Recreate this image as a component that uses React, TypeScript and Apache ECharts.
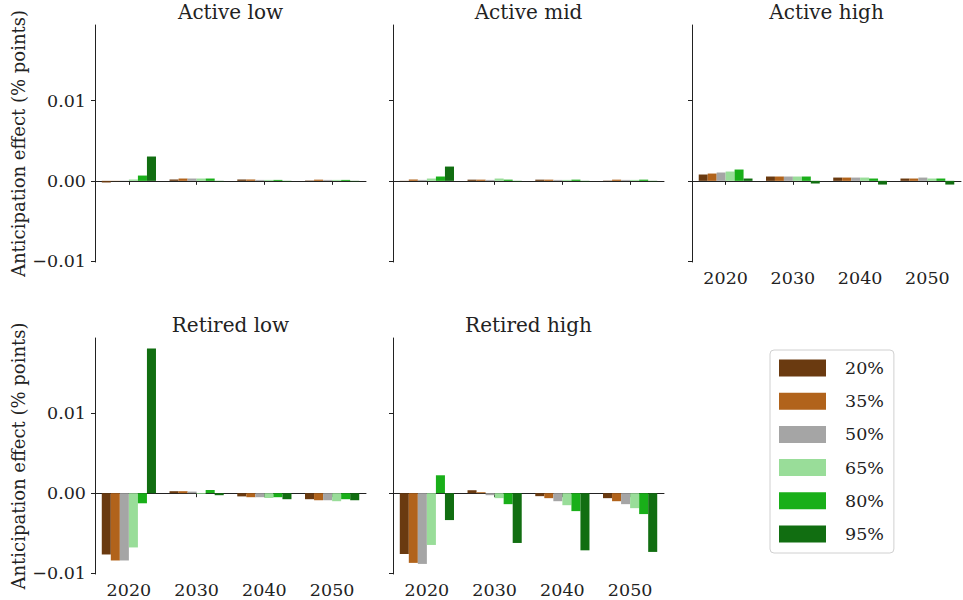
import React, { useEffect, useRef } from "react";
import * as echarts from "echarts";

const years = ["2020", "2030", "2040", "2050"];
const shares = ["20%", "35%", "50%", "65%", "80%", "95%"];
const shareColors = ["#6a3a10", "#b1631b", "#a5a5a5", "#99dd99", "#19af19", "#116e11"];
const panelTitles = ["Active low", "Active mid", "Active high", "Retired low", "Retired high"];
const yTicks = [-0.01, 0, 0.01];

// rows: shares (20%..95%), columns: years
const activeLow = [
  [-0.0002, 0.00017, 0.00017, 0.00005],
  [-0.00003, 0.00029, 0.00017, 0.00015],
  [0.00003, 0.00029, 0.00012, 0.00012],
  [0.00017, 0.00029, 0.00012, 0.00012],
  [0.00066, 0.00029, 0.00012, 0.00012],
  [0.00303, -0.00005, -0.00005, -0.00005],
];
const activeMid = [
  [-0.00003, 0.00015, 0.00015, 0.00004],
  [0.00017, 0.00015, 0.00015, 0.00015],
  [0.00012, 0.00012, 0.00012, 0.00012],
  [0.00029, 0.00029, 0.00012, 0.00012],
  [0.00054, 0.00015, 0.00015, 0.00015],
  [0.00178, -0.00005, -0.00005, -0.00005],
];
const activeHigh = [
  [0.00079, 0.00054, 0.00041, 0.00029],
  [0.00091, 0.00054, 0.00041, 0.00029],
  [0.00104, 0.00054, 0.00041, 0.00041],
  [0.00116, 0.00054, 0.00041, 0.00029],
  [0.00141, 0.00054, 0.00029, 0.00029],
  [0.00029, -0.00033, -0.00046, -0.00046],
];
const retiredLow = [
  [-0.00766, 0.00025, -0.0004, -0.00075],
  [-0.00841, 0.00025, -0.0005, -0.00088],
  [-0.00841, 0.0002, -0.0005, -0.00088],
  [-0.00678, -0.0001, -0.0006, -0.001],
  [-0.00126, 0.0004, -0.0005, -0.00075],
  [0.01808, -0.00025, -0.00075, -0.00088],
];
const retiredHigh = [
  [-0.0076, 0.00037, -0.00037, -0.00062],
  [-0.00871, 0.00012, -0.00062, -0.001],
  [-0.00884, -0.00025, -0.001, -0.00137],
  [-0.00647, -0.00062, -0.0015, -0.00187],
  [0.00224, -0.00137, -0.00224, -0.00261],
  [-0.00336, -0.00622, -0.00714, -0.00734],
];

const panelData = [activeLow, activeMid, activeHigh, retiredLow, retiredHigh];

const FONT = "DejaVu Serif";
const INK = "#222";

const grids = [
  { left: 95, top: 25, width: 271, height: 237 },
  { left: 393, top: 25, width: 271, height: 237 },
  { left: 692, top: 25, width: 269, height: 237 },
  { left: 95, top: 338, width: 271, height: 236 },
  { left: 393, top: 338, width: 271, height: 236 },
];
const showXLabels = [false, false, true, true, true];
const showYLabels = [true, false, false, true, false];

const fmtY = (v: number) => {
  if (Math.abs(v) < 1e-12) return "0.00";
  return v > 0 ? v.toFixed(2) : "\u2212" + Math.abs(v).toFixed(2);
};

export default function App() {
  const ref = useRef<HTMLDivElement>(null);
  useEffect(() => {
    if (!ref.current) return;
    const chart = echarts.init(ref.current, undefined, { renderer: "svg" });

    const xAxis = grids.map((_, i) => ({
      type: "category",
      gridIndex: i,
      data: years,
      axisLine: { show: true, lineStyle: { color: INK, width: 1 } },
      axisTick: { show: true, alignWithLabel: true, length: 4, lineStyle: { color: INK } },
      axisLabel: {
        show: showXLabels[i],
        fontFamily: FONT,
        fontSize: 17.5,
        color: INK,
        margin: 7,
      },
      splitLine: { show: false },
    }));

    const yAxis = grids.map((_, i) => ({
      type: "value",
      gridIndex: i,
      min: -0.0101,
      max: 0.0194,
      axisLine: { show: true, onZero: false, lineStyle: { color: INK, width: 1 } },
      axisTick: { show: true, length: 4, customValues: yTicks, lineStyle: { color: INK } },
      axisLabel: {
        show: showYLabels[i],
        customValues: yTicks,
        formatter: fmtY,
        fontFamily: FONT,
        fontSize: 17.5,
        color: INK,
        margin: 9,
      },
      splitLine: { show: false },
    }));

    const series: any[] = [];
    panelData.forEach((panel, p) => {
      panel.forEach((vals, s) => {
        series.push({
          type: "bar",
          name: shares[s],
          xAxisIndex: p,
          yAxisIndex: p,
          data: vals,
          barGap: "0%",
          barCategoryGap: "20%",
          itemStyle: { color: shareColors[s] },
          emphasis: { disabled: true },
        });
      });
    });

    const graphic: any[] = [];
    grids.forEach((g, i) => {
      graphic.push({
        type: "text",
        x: g.left + g.width / 2,
        y: g.top - 13,
        style: {
          text: panelTitles[i],
          fontFamily: FONT,
          fontSize: 20,
          fill: INK,
          textAlign: "center",
          textVerticalAlign: "middle",
        },
      });
    });
    [grids[0], grids[3]].forEach((g) => {
      graphic.push({
        type: "text",
        x: 18,
        y: g.top + g.height / 2,
        rotation: Math.PI / 2,
        style: {
          text: "Anticipation effect (% points)",
          fontFamily: FONT,
          fontSize: 18,
          fill: INK,
          textAlign: "center",
          textVerticalAlign: "middle",
        },
      });
    });

    chart.setOption({
      animation: false,
      backgroundColor: "#ffffff",
      textStyle: { fontFamily: FONT },
      grid: grids.map((g) => ({ ...g, containLabel: false })),
      xAxis,
      yAxis,
      series,
      legend: {
        data: shares,
        orient: "vertical",
        left: 770,
        top: 350,
        icon: "rect",
        itemWidth: 47,
        itemHeight: 17,
        itemGap: 15.2,
        padding: [9, 10, 10, 9],
        borderColor: "#d0d0d0",
        borderWidth: 1,
        borderRadius: 4,
        selectedMode: false,
        textStyle: {
          fontFamily: FONT,
          fontSize: 17.5,
          color: INK,
          padding: [0, 0, 0, 14],
        },
      },
      graphic,
    });

    return () => chart.dispose();
  }, []);

  return (
    <div
      ref={ref}
      style={{ position: "absolute", left: 0, top: 0, width: 963, height: 600 }}
    />
  );
}
